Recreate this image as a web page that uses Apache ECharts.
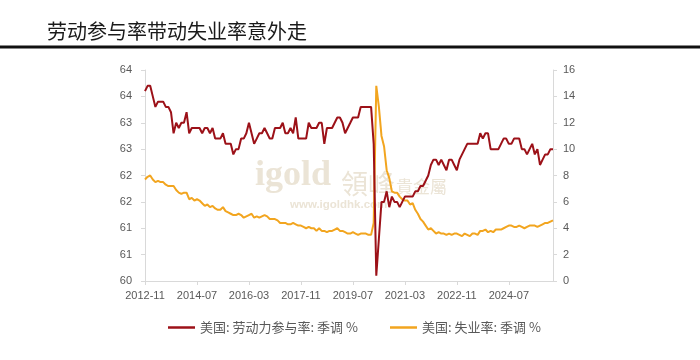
<!DOCTYPE html>
<html>
<head>
<meta charset="utf-8">
<script src="https://cdn.jsdelivr.net/npm/echarts@6/dist/echarts.min.js"></script>
<style>
  html, body { margin: 0; padding: 0; background: #ffffff; }
  #chart { width: 700px; height: 360px; }
</style>
</head>
<body>
<div id="chart"></div>
<script>
// ---- data ----
var titleText = '劳动参与率带动失业率意外走';
var seriesNames = ['美国: 劳动力参与率: 季调 %', '美国: 失业率: 季调 %'];
var startYear = 2012, startMonth = 11, monthCount = 158;

// 美国: 劳动力参与率 (%), monthly 2012-11 .. 2025-12
var lfpr = [
  63.6, 63.7,
  63.7, 63.5, 63.3, 63.4, 63.4, 63.4, 63.3, 63.3, 63.2, 62.8, 63.0, 62.9,
  63.0, 63.0, 63.2, 62.8, 62.9, 62.9, 62.9, 62.9, 62.8, 62.9, 62.9, 62.8,
  62.9, 62.7, 62.7, 62.7, 62.8, 62.6, 62.6, 62.6, 62.4, 62.5, 62.5, 62.7,
  62.7, 62.8, 63.0, 62.8, 62.6, 62.7, 62.8, 62.8, 62.9, 62.8, 62.7, 62.7,
  62.9, 62.9, 62.9, 63.0, 62.8, 62.8, 62.9, 62.8, 63.1, 62.7, 62.7, 62.7,
  62.7, 63.0, 62.9, 62.9, 62.9, 63.0, 63.0, 62.6, 62.9, 62.9, 62.9, 63.0,
  63.1, 63.1, 63.0, 62.8, 62.9, 63.0, 63.1, 63.1, 63.1, 63.3, 63.3, 63.3,
  63.3, 63.3, 62.6, 60.1, 60.8, 61.5, 61.5, 61.7, 61.4, 61.6, 61.5, 61.5,
  61.4, 61.5, 61.6, 61.6, 61.6, 61.6, 61.7, 61.7, 61.8, 61.8, 61.9, 62.0,
  62.2, 62.3, 62.3, 62.2, 62.3, 62.2, 62.1, 62.3, 62.3, 62.2, 62.1, 62.3,
  62.4, 62.5, 62.6, 62.6, 62.6, 62.6, 62.6, 62.8, 62.7, 62.8, 62.8, 62.5,
  62.5, 62.5, 62.5, 62.6, 62.7, 62.7, 62.6, 62.6, 62.7, 62.7, 62.7, 62.5,
  62.5, 62.4, 62.5, 62.6, 62.4, 62.5, 62.2, 62.3, 62.4, 62.4, 62.5, 62.5
];

// 美国: 失业率 (%), monthly 2012-11 .. 2025-12
var unemp = [
  7.7, 7.9,
  8.0, 7.7, 7.5, 7.6, 7.5, 7.5, 7.3, 7.2, 7.2, 7.2, 6.9, 6.7,
  6.6, 6.7, 6.7, 6.2, 6.3, 6.1, 6.2, 6.1, 5.9, 5.7, 5.8, 5.6,
  5.7, 5.5, 5.4, 5.4, 5.6, 5.3, 5.2, 5.1, 5.0, 5.0, 5.1, 5.0,
  4.8, 4.9, 5.0, 5.1, 4.8, 4.9, 4.8, 4.9, 5.0, 4.9, 4.7, 4.7,
  4.7, 4.6, 4.4, 4.4, 4.4, 4.3, 4.3, 4.4, 4.3, 4.2, 4.2, 4.1,
  4.0, 4.1, 4.0, 4.0, 3.8, 4.0, 3.8, 3.8, 3.7, 3.8, 3.8, 3.9,
  4.0, 3.8, 3.8, 3.7, 3.6, 3.6, 3.7, 3.6, 3.5, 3.6, 3.6, 3.6,
  3.5, 3.5, 4.4, 14.8, 13.2, 11.0, 10.2, 8.4, 7.8, 6.8, 6.7, 6.7,
  6.4, 6.2, 6.1, 6.1, 5.8, 5.9, 5.4, 5.1, 4.7, 4.5, 4.2, 3.9,
  4.0, 3.8, 3.6, 3.7, 3.6, 3.6, 3.5, 3.6, 3.5, 3.6, 3.6, 3.5,
  3.4, 3.6, 3.5, 3.4, 3.6, 3.6, 3.5, 3.8, 3.8, 3.9, 3.7, 3.8,
  3.7, 3.9, 3.9, 3.9, 4.0, 4.1, 4.2, 4.2, 4.1, 4.1, 4.2, 4.1,
  4.0, 4.1, 4.2, 4.2, 4.2, 4.1, 4.2, 4.3, 4.4, 4.4, 4.5, 4.6
];

// axis ticks
var leftMin = 60, leftMax = 64, leftStep = 0.5;
var rightMin = 0, rightMax = 16, rightStep = 2;
var labelEvery = 20;

// month categories
var categories = [];
(function () {
  var y = startYear, m = startMonth;
  for (var i = 0; i < monthCount; i++) {
    categories.push(y + '-' + (m < 10 ? '0' + m : '' + m));
    m++;
    if (m > 12) { m = 1; y++; }
  }
})();

// ---- chart ----
var chart = echarts.init(document.getElementById('chart'), null, { renderer: 'canvas' });
var axisGray = '#d9d9d9';
var labelGray = '#595959';
var redColor = '#9c1118';
var yellowColor = '#f2a51f';
var wm = '#ebe4d6';

var option = {
  backgroundColor: '#ffffff',
  animation: false,
  title: {
    text: titleText,
    left: 42,
    top: 16,
    textStyle: {
      fontFamily: 'Noto Sans CJK SC',
      fontSize: 20,
      fontWeight: 'normal',
      color: '#1a1a1a'
    }
  },
  graphic: [
    { type: 'rect', shape: { x: 0, y: 45.5, width: 700, height: 3 }, style: { fill: '#111111' }, z: 10 },
    { type: 'text', z: 0, style: { x: 255, y: 194, text: 'igold', textVerticalAlign: 'bottom', fill: wm, font: 'bold 36px "Liberation Serif"' } },
    { type: 'text', z: 0, style: { x: 341, y: 197, text: '領峰', textVerticalAlign: 'bottom', fill: wm, font: '27px "Noto Sans CJK TC"' } },
    { type: 'text', z: 0, style: { x: 396, y: 195, text: '貴金屬', textVerticalAlign: 'bottom', fill: wm, font: '17px "Noto Sans CJK TC"' } },
    { type: 'text', z: 0, style: { x: 290, y: 205, text: 'www.igoldhk.com', textVerticalAlign: 'middle', fill: wm, font: 'bold 11.5px "Liberation Sans"' } }
  ],
  legend: [
    {
      data: [seriesNames[0]],
      left: 163, top: 316,
      itemWidth: 27, itemHeight: 2.5, icon: 'rect',
      textStyle: { fontFamily: 'Noto Sans CJK SC', fontSize: 13, color: labelGray }
    },
    {
      data: [seriesNames[1]],
      left: 385, top: 316,
      itemWidth: 27, itemHeight: 2.5, icon: 'rect',
      textStyle: { fontFamily: 'Noto Sans CJK SC', fontSize: 13, color: labelGray }
    }
  ],
  grid: { left: 145, right: 147, top: 70, bottom: 79, containLabel: false },
  xAxis: {
    type: 'category',
    data: categories,
    boundaryGap: false,
    axisLine: { lineStyle: { color: axisGray, width: 1 } },
    axisTick: { show: true, interval: labelEvery - 1, length: 4, lineStyle: { color: axisGray } },
    axisLabel: {
      interval: labelEvery - 1,
      color: labelGray,
      fontFamily: 'Liberation Sans',
      fontSize: 11,
      margin: 9
    },
    splitLine: { show: false }
  },
  yAxis: [
    {
      type: 'value',
      position: 'left',
      min: leftMin, max: leftMax, interval: leftStep,
      axisLine: { show: true, lineStyle: { color: axisGray } },
      axisTick: { show: true, length: 4, lineStyle: { color: axisGray } },
      axisLabel: {
        color: labelGray, fontFamily: 'Liberation Sans', fontSize: 11, margin: 13,
        formatter: function (v) { return String(Math.round(v)); }
      },
      splitLine: { show: false }
    },
    {
      type: 'value',
      position: 'right',
      min: rightMin, max: rightMax, interval: rightStep,
      axisLine: { show: true, lineStyle: { color: axisGray } },
      axisTick: { show: true, length: 4, lineStyle: { color: axisGray } },
      axisLabel: { color: labelGray, fontFamily: 'Liberation Sans', fontSize: 11, margin: 10 },
      splitLine: { show: false }
    }
  ],
  series: [
    {
      name: seriesNames[0],
      type: 'line',
      yAxisIndex: 0,
      data: lfpr,
      showSymbol: false,
      symbol: 'none',
      z: 3,
      itemStyle: { color: redColor },
      lineStyle: { color: redColor, width: 2 }
    },
    {
      name: seriesNames[1],
      type: 'line',
      yAxisIndex: 1,
      data: unemp,
      showSymbol: false,
      symbol: 'none',
      z: 2,
      itemStyle: { color: yellowColor },
      lineStyle: { color: yellowColor, width: 2 }
    }
  ]
};
chart.setOption(option);
</script>
</body>
</html>
